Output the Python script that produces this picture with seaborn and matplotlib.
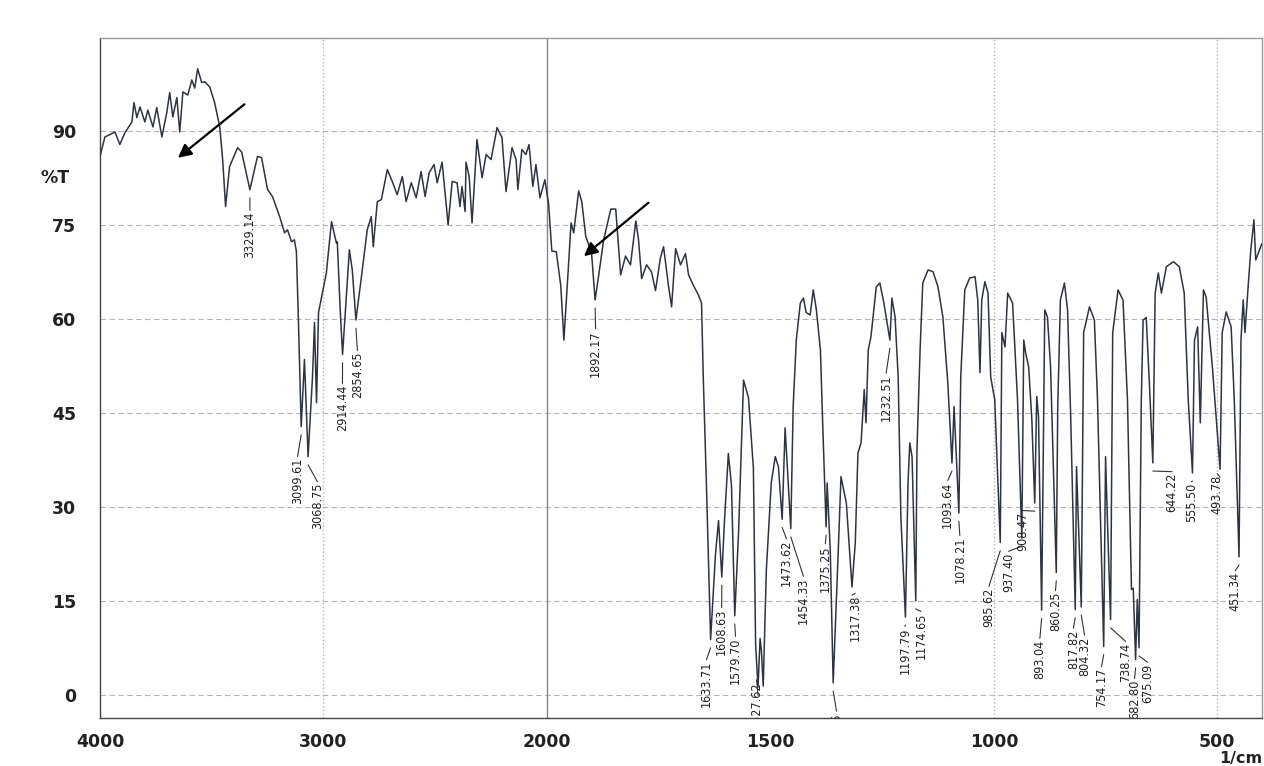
import numpy as np
import pandas as pd
import matplotlib
matplotlib.use('Agg')
import matplotlib.pyplot as plt
import seaborn as sns
from matplotlib import font_manager

# IR spectrum: wavenumber (1/cm) and transmittance (%T)
wavenumber = [
    4000, 3978, 3933, 3911, 3888, 3857, 3848, 3835, 3821, 3799, 3786, 3763, 3746,
    3723, 3701, 3688, 3674, 3656, 3643, 3629, 3607, 3589, 3576, 3563, 3545, 3531,
    3509, 3487, 3464, 3451, 3438, 3420, 3384, 3366, 3329.14, 3295, 3277, 3250,
    3228, 3210, 3196, 3174, 3161, 3143, 3130, 3121, 3112, 3099.61, 3085, 3068.75,
    3049, 3040, 3031, 3022, 3005, 2987, 2964, 2942, 2938, 2925, 2914.44, 2884,
    2871, 2854.65, 2830, 2804, 2786, 2777, 2759, 2741, 2714, 2692, 2670, 2647,
    2630, 2607, 2585, 2563, 2545, 2527, 2505, 2491, 2469, 2442, 2424, 2402, 2389,
    2380, 2366, 2362, 2348, 2335, 2313, 2290, 2272, 2250, 2223, 2201, 2183, 2156,
    2138, 2130, 2112, 2094, 2080, 2063, 2049, 2031, 2009,
    1996, 1989, 1979, 1969, 1962, 1951, 1946, 1940, 1929, 1922, 1913, 1906, 1900,
    1892.17, 1884, 1873, 1857, 1846, 1835, 1824, 1813, 1801, 1795, 1788, 1777,
    1766, 1757, 1746, 1739, 1728, 1721, 1712, 1701, 1690, 1683, 1672, 1661, 1654,
    1650, 1643, 1633.71, 1623, 1616, 1608.63, 1603, 1594, 1587, 1579.70, 1571,
    1560, 1549, 1538, 1533, 1527.62, 1523, 1520, 1516, 1509, 1498, 1489, 1482,
    1473.62, 1467, 1454.33, 1449, 1442, 1433, 1426, 1420, 1411, 1404, 1397, 1388,
    1382, 1375.25, 1373, 1366, 1359.46, 1348, 1342, 1330, 1317.38, 1310, 1304,
    1297, 1290, 1286, 1281, 1275, 1263, 1255, 1246, 1232.51, 1228, 1221, 1214,
    1208, 1197.79, 1192, 1188, 1183, 1174.65, 1172, 1165, 1159, 1147, 1136, 1125,
    1114, 1103, 1093.64, 1089, 1078.21, 1074, 1065, 1054, 1042, 1036, 1031, 1027,
    1020, 1013, 1007, 998, 985.62, 982, 975, 969, 958, 947, 937.40, 933, 929, 922,
    915, 908.47, 904, 900, 893.04, 886, 880, 873, 860.25, 857, 851, 842, 835, 828,
    817.82, 815, 804.32, 799, 786, 775, 768, 754.17, 750, 745, 738.74, 734, 722,
    711, 701, 692, 688, 682.80, 679, 675.09, 670, 666, 659, 652, 644.22, 639, 632,
    625, 614, 598, 585, 574, 565, 555.50, 551, 544, 538, 531, 525, 511, 493.78,
    489, 480, 469, 462, 451.34, 447, 442, 438, 431, 425, 418, 414, 400,
]
transmittance = [
    85.9, 89.0, 89.8, 87.8, 89.7, 91.4, 94.5, 92.1, 93.8, 91.4, 93.3, 90.6, 93.7,
    89.0, 92.9, 96.1, 92.2, 95.3, 89.8, 96.2, 95.7, 98.1, 96.8, 99.9, 97.7, 97.8,
    97.0, 94.5, 90.6, 85.4, 77.9, 84.3, 87.3, 86.6, 80.6, 85.9, 85.7, 80.6,
    79.5, 77.7, 76.3, 73.7, 74.2, 72.3, 72.6, 70.7, 59.8, 42.8, 53.5, 38.0,
    50.7, 59.4, 46.6, 61.0, 64.1, 67.3, 75.5, 72.1, 72.3, 61.4, 54.3, 71.0,
    67.8, 59.8, 66.7, 74.2, 76.3, 71.5, 78.7, 79.0, 83.8, 81.9, 79.8, 82.7,
    78.7, 81.7, 79.3, 83.5, 79.5, 83.3, 84.6, 81.7, 85.0, 75.0, 81.9, 81.7, 77.9,
    81.1, 77.1, 85.0, 82.7, 75.3, 88.6, 82.5, 86.2, 85.4, 90.5, 88.9, 80.3, 87.3,
    85.4, 80.6, 87.0, 86.2, 87.8, 81.1, 84.6, 79.3, 82.2,
    78.2, 70.8, 70.7, 65.3, 56.6, 69.3, 75.3, 73.7, 80.4, 78.7, 73.1, 71.8, 70.4,
    63.0, 67.0, 72.6, 77.5, 77.5, 67.0, 70.0, 68.6, 75.6, 72.6, 66.4, 68.6,
    67.5, 64.5, 69.7, 71.5, 65.3, 61.9, 71.2, 68.6, 70.4, 67.0, 65.3, 63.8, 62.5,
    50.3, 33.4, 8.8, 22.2, 27.8, 18.8, 27.3, 38.5, 33.4, 12.6, 26.2,
    50.2, 47.4, 36.2, 8.0, 1.2, 9.0, 7.0, 1.4, 19.9, 33.8, 38.0, 36.4,
    28.0, 42.6, 26.5, 46.0, 56.6, 62.5, 63.3, 61.0, 60.6, 64.6, 61.4, 55.0,
    41.2, 26.8, 33.8, 23.1, 1.9, 23.1, 34.8, 30.6, 17.2, 24.3, 38.6,
    40.2, 48.7, 43.4, 55.0, 57.1, 65.1, 65.7, 62.5, 56.6, 63.3, 60.3, 50.7,
    28.4, 12.4, 33.8, 40.2, 38.0, 15.0, 39.1, 55.0, 65.7, 67.8, 67.5, 65.1,
    60.3, 49.8, 37.0, 46.0, 29.0, 50.7, 64.6, 66.5, 66.7, 63.0, 51.4, 63.0,
    65.9, 64.1, 50.7, 47.1, 24.3, 57.8, 55.5, 64.1, 62.5, 47.1, 25.0, 56.6, 54.6, 52.3,
    44.0, 30.6, 47.6, 44.4, 13.5, 61.4, 60.3, 52.3, 19.5, 46.0, 63.0, 65.7, 61.4, 44.4,
    13.6, 36.4, 14.0, 57.8, 61.9, 59.8, 47.1, 7.7, 38.0, 25.9, 12.0, 57.8, 64.6,
    63.0, 47.1, 16.8, 17.0, 5.6, 15.2, 7.5, 47.1, 59.8, 60.2, 49.8, 37.0, 64.1, 67.3,
    64.1, 68.3, 69.1, 68.3, 64.1, 47.1, 35.4, 56.6, 58.7, 43.4, 64.6, 63.5, 52.3, 36.0,
    57.8, 61.1, 58.7, 47.1, 22.0, 56.6, 63.0, 57.8, 65.1, 71.0, 75.8, 69.4, 72.0,
]

# labelled peaks
peak_wn = [3329.14, 3099.61, 3068.75, 2914.44, 2854.65, 1892.17, 1633.71, 1608.63,
           1579.70, 1527.62, 1359.46, 1473.62, 1454.33, 1375.25, 1317.38, 1232.51,
           1197.79, 1174.65, 1093.64, 1078.21, 985.62, 937.40, 908.47, 893.04,
           860.25, 817.82, 804.32, 754.17, 738.74, 682.80, 675.09, 644.22, 555.50,
           493.78, 451.34]
peak_text = ['3329.14', '3099.61', '3068.75', '2914.44', '2854.65', '1892.17',
             '1633.71', '1608.63', '1579.70', '1527.62', '1359.46', '1473.62',
             '1454.33', '1375.25', '1317.38', '1232.51', '1197.79', '1174.65',
             '1093.64', '1078.21', '985.62', '937.40', '908.47', '893.04', '860.25',
             '817.82', '804.32', '754.17', '738.74', '682.80', '675.09', '644.22',
             '555.50', '493.78', '451.34']

# where each peak label sits (x in 1/cm, top of text in %T)
label_x = [3329, 3116, 3027, 2915, 2848, 1891, 1643, 1609, 1578, 1531, 1352, 1464,
           1426, 1377, 1310, 1241, 1199, 1163, 1103, 1076, 1011, 967, 935, 897, 862,
           822, 797, 759, 705, 685, 656, 601, 558, 500, 460]
label_top = [77.1, 37.8, 33.8, 49.5, 54.7, 58.2, 5.4, 13.7, 9.1, 2.2, -2.8, 24.7,
             18.7, 23.9, 16.0, 51.1, 10.7, 13.1, 34.0, 25.2, 17.1, 22.7, 29.2, 8.8,
             16.4, 10.4, 9.3, 4.3, 8.3, 2.4, 5.0, 35.4, 33.8, 35.1, 19.6]

x_major = [4000, 3000, 2000, 1500, 1000, 500]
x_major_labels = ['4000', '3000', '2000', '1500', '1000', '500']
y_major = [0, 15, 30, 45, 60, 75, 90]

df = pd.DataFrame({'wavenumber': wavenumber, 'T': transmittance})
peak_T = dict(zip(wavenumber, transmittance))

# a narrow face for the peak labels if one is installed
fonts = font_manager.fontManager.ttflist
names = {f.name for f in fonts}
peak_kw = dict(family='Liberation Sans', fontsize=9.3)
if 'Liberation Sans Narrow' in names:
    peak_kw = dict(family='Liberation Sans Narrow', fontsize=10)
elif any(f.name == 'DejaVu Sans' and f.stretch == 'condensed' for f in fonts):
    peak_kw = dict(family='DejaVu Sans', fontstretch='condensed', fontsize=9)


# the instrument doubles the scale below 2000 1/cm
def fwd(x):
    x = np.asarray(x, dtype=float)
    return np.where(x >= 2000, x, 2 * x - 2000)


def inv(y):
    y = np.asarray(y, dtype=float)
    return np.where(y >= 2000, y, (y + 2000) / 2)


sns.set_style('white')
fig = plt.figure(figsize=(12.64, 7.66), dpi=100)
ax = fig.add_axes([0.0791, 0.0627, 0.9193, 0.8877])

grid_c = '#b4b4b4'
for y in y_major:
    ax.axhline(y, color=grid_c, lw=0.8, dashes=(5, 3), zorder=0)
for x in [3000, 1000, 500]:
    ax.axvline(x, color=grid_c, lw=1.0, ls=':', zorder=0)
ax.axvline(2000, color='#7d8590', lw=1.0, zorder=1)

sns.lineplot(data=df, x='wavenumber', y='T', ax=ax, color='#2e3440',
             lw=1.1, estimator=None, legend=False, zorder=3)

ax.set_xscale('function', functions=(fwd, inv))
ax.set_xlim(4000, 400)
ax.set_ylim(-3.7, 104.8)

# peak labels with leader lines
for pw, txt, lx, lt in zip(peak_wn, peak_text, label_x, label_top):
    pt = peak_T[pw]
    ax.plot([pw, lx], [pt - 1.3, lt + 0.2], color='#333', lw=0.8, zorder=2,
            clip_on=True)
    ax.text(lx, lt, txt, rotation=90, ha='center', va='top', color='#222',
            clip_on=True, zorder=4, **peak_kw)

# hand-drawn arrows
ax.annotate('', xy=(3661, 85.4), xytext=(3344, 94.5),
            arrowprops=dict(arrowstyle='-|>', color='black', lw=1.6,
                            mutation_scale=20))
ax.annotate('', xy=(1922, 69.7), xytext=(1768, 78.8),
            arrowprops=dict(arrowstyle='-|>', color='black', lw=1.6,
                            mutation_scale=20))

# ticks
x_minor = [3800, 3600, 3400, 3200, 2800, 2600, 2400, 2200] + \
          [w for w in range(1900, 400, -100) if w % 500 != 0]
ax.set_xticks(x_major)
ax.set_xticks(x_minor, minor=True)
ax.set_xticklabels(x_major_labels, fontsize=12.5, fontweight='bold', color='#222')
ax.set_yticks(y_major)
ax.set_yticks(np.arange(-3, 104, 3), minor=True)
ax.set_yticklabels([str(v) for v in y_major], fontsize=12.5, fontweight='bold',
                   color='#222')
ax.tick_params(axis='x', which='major', direction='out', length=6, width=1,
               color='#444', pad=5)
ax.tick_params(axis='x', which='minor', direction='out', length=4.5, width=1,
               color='#444')
ax.tick_params(axis='y', which='major', direction='out', length=14, width=1,
               color='#444', pad=3)
ax.tick_params(axis='y', which='minor', direction='out', length=7, width=1,
               color='#444')
ax.set_xlabel('')
ax.set_ylabel('')

for side in ['left', 'bottom']:
    ax.spines[side].set_color('#444')
    ax.spines[side].set_linewidth(1.0)
for side in ['top', 'right']:
    ax.spines[side].set_color('#999')
    ax.spines[side].set_linewidth(1.0)

ax.text(-0.039, 82.5, '%T', transform=ax.get_yaxis_transform(), ha='center',
        va='center', fontsize=12.5, fontweight='bold', color='#222')
ax.text(1.0, -0.059, '1/cm', transform=ax.transAxes, ha='right', va='center',
        fontsize=11.5, fontweight='bold', color='#222')

fig.savefig('out.png', dpi=100, facecolor='white')
